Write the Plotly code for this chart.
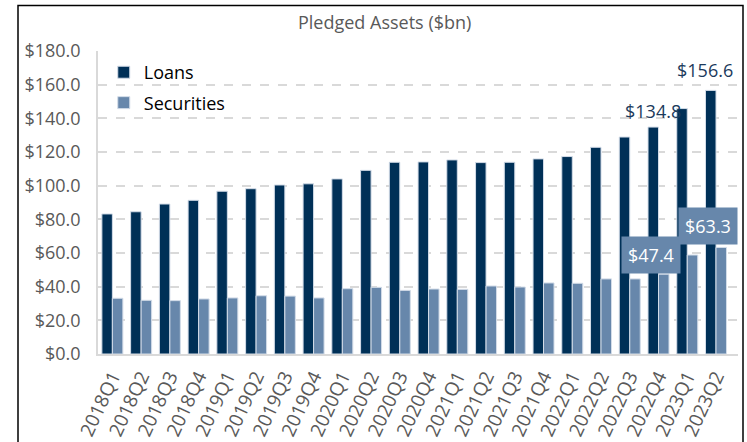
import plotly.graph_objects as go

quarters = ["2018Q1", "2018Q2", "2018Q3", "2018Q4",
            "2019Q1", "2019Q2", "2019Q3", "2019Q4",
            "2020Q1", "2020Q2", "2020Q3", "2020Q4",
            "2021Q1", "2021Q2", "2021Q3", "2021Q4",
            "2022Q1", "2022Q2", "2022Q3", "2022Q4",
            "2023Q1", "2023Q2"]
loans = [83.2, 84.5, 89.1, 91.3,
         96.7, 98.2, 100.4, 101.1,
         104.0, 109.1, 113.9, 114.1,
         115.3, 113.7, 113.9, 115.9,
         117.3, 122.8, 128.9, 134.8,
         145.8, 156.6]
securities = [33.1, 31.9, 31.7, 32.7,
              33.3, 34.6, 34.4, 33.3,
              38.8, 39.6, 37.8, 38.6,
              38.4, 40.4, 39.8, 42.2,
              42.0, 44.6, 44.6, 47.4,
              58.8, 63.3]

LOAN_C = "#003057"
SEC_C = "#6787ab"
GRAY = "#595959"
FONT = "Open Sans"

fig = go.Figure()
fig.add_trace(go.Bar(name="Loans", x=quarters, y=loans, marker_color=LOAN_C,
                     marker_line=dict(color="#d3dce8", width=1), legendgroup="a"))
fig.add_trace(go.Bar(name="Securities", x=quarters, y=securities, marker_color=SEC_C,
                     marker_line=dict(color="#d3dce8", width=1), legendgroup="b"))

# value labels
i_l1 = quarters.index("2022Q4")
i_l2 = quarters.index("2023Q2")
fig.add_annotation(x=quarters[i_l1], y=loans[i_l1], text="$" + f"{loans[i_l1]:.1f}",
                   showarrow=False, xshift=-6, yshift=16,
                   font=dict(family=FONT, size=18, color="#1b3a5c"))
fig.add_annotation(x=quarters[i_l2], y=loans[i_l2], text="$" + f"{loans[i_l2]:.1f}",
                   showarrow=False, xshift=-11, yshift=20,
                   font=dict(family=FONT, size=18, color="#1b3a5c"))
fig.add_annotation(x=quarters[i_l1], y=securities[i_l1], text="$" + f"{securities[i_l1]:.1f}",
                   showarrow=False, xshift=-8, yshift=19, bgcolor=SEC_C, borderpad=6,
                   font=dict(family=FONT, size=18, color="white"))
fig.add_annotation(x=quarters[i_l2], y=securities[i_l2], text="$" + f"{securities[i_l2]:.1f}",
                   showarrow=False, xshift=-8, yshift=21, bgcolor=SEC_C, borderpad=6,
                   font=dict(family=FONT, size=18, color="white"))

# title
fig.add_annotation(xref="paper", yref="paper", x=(384.5 - 98) / 640, y=(354 - 22) / 303,
                   text="Pledged Assets ($bn)", showarrow=False, yanchor="middle",
                   font=dict(family=FONT, size=18, color=GRAY))

# outer frame
fig.add_shape(type="rect", xref="paper", yref="paper",
              x0=(18 - 98) / 640, x1=(743 - 98) / 640,
              y0=-0.35, y1=(354 - 5.5) / 303,
              line=dict(color="black", width=1.5), layer="above")

fig.update_layout(
    width=747, height=442,
    margin=dict(l=98, r=9, t=51, b=88, autoexpand=False),
    paper_bgcolor="white", plot_bgcolor="white",
    barmode="group", bargap=0.27, bargroupgap=0,
    font=dict(family=FONT, size=18, color=GRAY),
    showlegend=True,
    legend=dict(x=0.009, y=0.99, xanchor="left", yanchor="top",
                bgcolor="rgba(0,0,0,0)", traceorder="grouped", tracegroupgap=4,
                font=dict(family=FONT, size=18, color="black")),
    xaxis=dict(tickangle=-65, showgrid=False, showline=True, linecolor="#d9d9d9",
               linewidth=2, ticks="", ticklabelstandoff=2,
               tickfont=dict(family=FONT, size=19, color=GRAY)),
    yaxis=dict(range=[0, 180], dtick=20, tickprefix="$", tickformat=".1f",
               showgrid=True, gridcolor="#d9d9d9", griddash="dash", gridwidth=1.5,
               showline=True, linecolor="#d9d9d9", linewidth=1.5, zeroline=False,
               ticks="", ticklabelstandoff=12,
               tickfont=dict(family=FONT, size=18, color=GRAY)),
)

fig.write_html("out.html", config={"displayModeBar": False},
               post_script="document.body.style.margin='0';")
